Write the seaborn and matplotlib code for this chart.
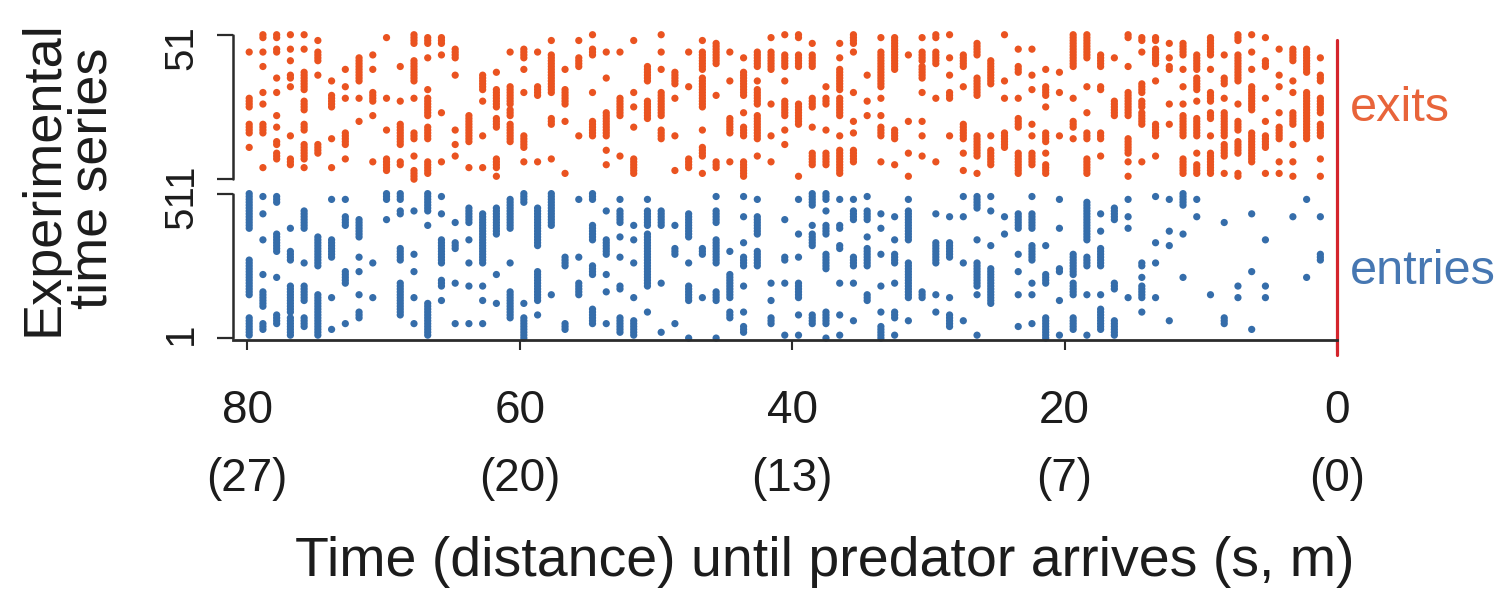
import matplotlib
matplotlib.use("Agg")
import matplotlib.pyplot as plt
import matplotlib.transforms as mtransforms
import numpy as np
import pandas as pd
import seaborn as sns

# event columns: first column near 80 s, one column per time bin towards 0 s
t_first = 79.85
bin_s = 1.008
n_series = 51

# series (1..51) that had an event in each time bin; "a-b" is a run of series
exit_rows = [
    "45 29-26 20-17 12", "51-50 45 40 31 27 20-17 5", "51-50 46-45 36 31 23 19 14-13 10-8",
    "51 46 42 37-36 33 16 8-6", "51 46 38-32 28-25 20-18 13-8 5", "49 45-42 37 13-10",
    "35 30-26 15 5", "39 33 29 17-13 8", "43-35 29 21", "44 39 31-28 23 7",
    "50 29 18 8-4", "40 28 20-13 7-6", "51-48 42-35 29 17-15 9 4-1",
    "50-48 43 32 29-23 19-15 7-3", "50-48 44 24 7", "46-43 37 18 13 9", "23-14 5",
    "37-32 28 16 5", "38 32-26 22-19 8-5 2", "45 33-27 25-23 20-14",
    "46-43 39 31 16-12 7", "45 33-30 7", "49 44-31 22-20 8", "39 32-27 21 3",
    "49 43-40 16", "51 46-44 31 21-16", "45 36 24-16 11 6", "45 29-23 9",
    "49 31 26 19 8-3", "40-35 28-22", "51 45 39 31-23 18-15", "38-34 29 16 4",
    "45 33 8-5", "49 45-39 36-26 18 12-9 3", "48-41 30 7-5", "45 35 22-17 7",
    "43 38-30 24 19-16 7-2", "45-40 35 32-27 23-15 9", "50 45-39 27 16 7",
    "51 44-40 35 28-23 18 13", "51-50 44-40 27-20 2", "48 44-40 29-26 19 10-6",
    "33 29-27 18 10-6", "48 43 39-32 29-23 16 11-3", "51-48 45 31 21 17 11-7",
    "37 28 23", "50 45-33 29 23 19-16 7", "50-39 18-15 6", "44 21 10 2",
    "50 45-42 40-36 31 21 16 9", "51-50 45-41 29 7", "51 43 37 31-29 16",
    "44-40 33 20-15 10 4", "48-44 36-30 16-9 3", "42-34 16 11-6", "51 35 29 17-12",
    "46 40-38 29 22-19 10-3", "46 37 32 20 16 10-6", "39 33-30 26 17-14 10 6-3",
    "38 31 16", "51-40 29 21-19 15", "51-43 33 24 17-15 8-3", "44-40 33-32 17-15 9",
    "43 28-23", "51-50 40 31-23 15-10 7 2", "50-49 45 34-31 28-26 24-20 7",
    "50-49 46-41 35 20-16 9", "48 43 40-39 27 20", "48-44 39 33 27 23-16 8-3",
    "44-39 36-32 28 22-16 10 6-3", "50-44 39 31-28 24-22 16 10-3",
    "44 36-34 29 24-16 13-9 3", "51-49 44-35 27 21-18 14-10 3-2", "51 45 39 33-25 17-7",
    "50 42-40 29 21 16-12 3", "46 37 33 24 19-15 7 3", "46-42 35 31 24-20 13 7 2",
    "46-38 31-15", "43 37-35 29-24 20-16 8 2",
]
entry_rows = [
    "51-39 28-16 8-2", "50 44 35 23 17-12 6-4", "50-48 37-31 22 9-6", "39 31-28 19-10 8-2",
    "45-39 27 19-14 8-5", "36-26 16-2", "49 35-29 15 4", "49 43-40 24-20 6",
    "42-36 29 24 16 10-8", "27 15", "51-49 42", "51-49 45-44 32-28 20-9",
    "45 30 24 15 6", "51-45 40 13-2", "50 44 35-27 21-19 14", "41 34-32 20 6",
    "46-41 35 27 19 6", "44-27 19 14 6", "46-37 23 13", "49-39 27 17-8",
    "51-48 13 8-1", "46-33 24-14 9", "51-40 16", "29-26 6-4", "49 29 20-16",
    "51-49 40-35 26-23 11-6", "45 35-30 23 17 6", "49 45-41 36 29 19-18 8-3",
    "40 35 27 15 7-2", "49 45-40 37-19 10", "45-40 20 3", "40 32-30 6",
    "44-36 27 19-14 1", "32-30 15", "50 45-41 35-27 17-14 1", "31 23-15 10-8",
    "50 43 34 29-26 19 10 5-3", "49 43-37 31-26", "20 14 8-6", "42 29-28 20 2",
    "49 37 29 20-15 9 2", "51-47 40 37-33 9-6", "51-49 45 40-37 30-25 10-6 1",
    "49 40-39 33-32 20 9 2", "49 45-42 29-26 20 7", "50 45-42 36 32-26 16-14",
    "44 39 30 19 10 5-1", "43 35 30-27 20 10-8 2", "49 45-35 27-15 7", "17-15",
    "44 34-27 16 10", "43 34-29 15 9-5", "50 43 27 7", "50-46 35 27-19 16 2",
    "50 45 33 25-13", "43 37", "44-39 30 24 16 5", "50 44-39 33-28 20 16 6",
    "33 23-20 8-1", "49 39 25-24 14 2", "30-23 20-16 8-4", "48-35 29-26 16 2",
    "44 38 32-26 16 11-4", "46-42 20-18 7-2", "49 43 39 15", "27-26 22 19-15 10",
    "50 34 27 15", "49 38 33 7", "51-47 37 22", "49 43", "16", "41 8-6", "19 15",
    "44 24 4", "35 19 15", "", "43", "49 22", "43 30-28",
]

x_ticks = [80, 60, 40, 20, 0]
x_tick_labels = ["80\n(27)", "60\n(20)", "40\n(13)", "20\n(7)", "0\n(0)"]
y_tick_labels = ["1", "51", "1", "51"]

ORANGE = "#EA5320"
BLUE = "#356DAA"
RED = "#D4242C"
AXIS = "#2b2b2b"
INK = "#1c1c1c"


def parse(col):
    rows = []
    for part in col.split():
        if "-" in part:
            hi, lo = map(int, part.split("-"))
            rows.extend(range(lo, hi + 1))
        else:
            rows.append(int(part))
    return rows


records = []
for kind, cols in (("exits", exit_rows), ("entries", entry_rows)):
    for k, col in enumerate(cols):
        for r in parse(col):
            records.append((t_first - k * bin_s, r, kind))
df = pd.DataFrame(records, columns=["time", "series", "kind"])

# exits block sits above the entries block with a small gap
gap = n_series + 4
df["y"] = df["series"] + np.where(df["kind"] == "exits", gap, 0)

sns.set_style("white")
plt.rcParams["font.family"] = ["Liberation Sans", "DejaVu Sans"]
plt.rcParams["text.color"] = INK

fig = plt.figure(figsize=(15.04, 6.03), dpi=100)
ax = fig.add_axes([0.155, 0.436, 0.734, 0.516])

sns.scatterplot(data=df, x="time", y="y", hue="kind",
                palette={"exits": ORANGE, "entries": BLUE},
                s=27, linewidth=0, legend=False, ax=ax, clip_on=False)

ax.set_xlim(81.03, 0)
ax.set_ylim(0.3, 2 * n_series + 6)

for side in ("top", "right", "left"):
    ax.spines[side].set_visible(False)
ax.spines["bottom"].set_color(AXIS)
ax.spines["bottom"].set_linewidth(2)

# x axis
ax.set_xticks(x_ticks)
ax.set_xticklabels(x_tick_labels, fontsize=33, linespacing=1.7, color=INK)
ax.tick_params(axis="x", bottom=True, direction="out", length=7, width=1.5,
               color=AXIS, pad=28)
ax.set_xlabel("")
fig.text(825 / 1504, 1 - 562 / 603, "Time (distance) until predator arrives (s, m)",
         fontsize=40, ha="center", va="center")

# y axis: one bracket per block, labels placed beside the bracket ends
y_ticks = [1, n_series, 1 + gap, n_series + gap]
ax.set_yticks(y_ticks)
ax.set_yticklabels([])
ax.tick_params(axis="y", left=True, direction="out", length=11.5, width=1.6,
               color=AXIS)
ax.set_ylabel("")
trans = mtransforms.blended_transform_factory(ax.transAxes, ax.transData)
for lo, hi in ((y_ticks[0], y_ticks[1]), (y_ticks[2], y_ticks[3])):
    ax.plot([0, 0], [lo, hi], transform=trans, color=AXIS, lw=1.8, clip_on=False)
for yt, txt in zip(y_ticks, y_tick_labels):
    shift = 1.6 if txt == "1" else -4.6
    ax.text(-0.030, yt + shift, txt, transform=trans, rotation=90, fontsize=29,
            ha="right", va="center", color=INK)

fig.text(68 / 1504, 1 - 178 / 603, "Experimental\ntime series", rotation=90,
         fontsize=39, ha="center", va="center", linespacing=0.95)

# predator arrival marker
ax.axvline(0, ymin=-0.048, ymax=0.963, color=RED, lw=2.3, clip_on=False)

ax.text(1.012, n_series / 2 + gap, "exits", transform=trans, color="#E8643A",
        fontsize=35, ha="left", va="center")
ax.text(1.012, 24, "entries", transform=trans, color="#4677B2",
        fontsize=35, ha="left", va="center")

fig.savefig("out.png", dpi=100)
